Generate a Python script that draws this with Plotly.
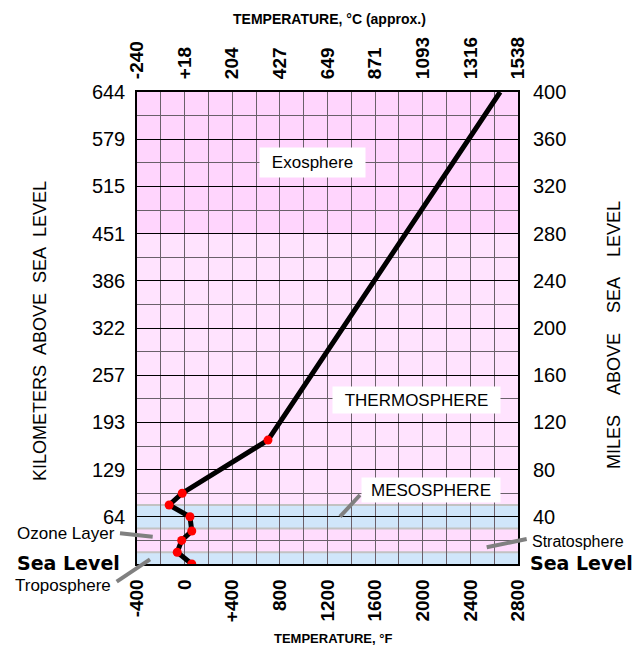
import plotly.graph_objects as go

# ---------------- data ----------------
altitude_mi = [0, 10, 20, 28, 40, 50, 60, 105, 400]
temp_f = [60, -62, -25, 60, 45, -130, -20, 700, 2650]
has_marker = [1, 1, 1, 1, 1, 1, 1, 1, 0]

f_ticks = [-400, 0, 400, 800, 1200, 1600, 2000, 2400, 2800]
f_ticktext = ["-400", "0", "+400", "800", "1200", "1600", "2000", "2400", "2800"]
c_ticktext = ["-240", "+18", "204", "427", "649", "871", "1093", "1316", "1538"]
mi_ticks = [40, 80, 120, 160, 200, 240, 280, 320, 360, 400]
mi_ticktext = ["40", "80", "120", "160", "200", "240", "280", "320", "360", "400"]
km_ticktext = ["64", "129", "193", "257", "322", "386", "451", "515", "579", "644"]

band_edges = [0, 10, 30, 50, 280, 400]
band_colors = ["#d0e6fa", "#ffdcfd", "#d0e6fa", "#ffe3fe", "#ffd5fd"]
band_lines = [10, 30, 50]

layer_labels = ["Exosphere", "THERMOSPHERE", "MESOSPHERE"]
layer_x = [1074, 1947, 2069]
layer_y = [340, 139, 62.7]
layer_w = [105, 167, 138]
layer_h = [29, 26, 24]

FONT = "Liberation Sans, Arial, sans-serif"
GRID = "#6a606a"

fig = go.Figure()

fig.add_trace(go.Scatter(
    x=temp_f, y=altitude_mi, mode="lines",
    line=dict(color="black", width=5),
    xaxis="x", yaxis="y", showlegend=False, hoverinfo="skip"))

mx = [t for t, m in zip(temp_f, has_marker) if m]
my = [a for a, m in zip(altitude_mi, has_marker) if m]
fig.add_trace(go.Scatter(
    x=mx, y=my, mode="markers",
    marker=dict(color="#ff0000", size=9),
    xaxis="x2", yaxis="y2", showlegend=False, hoverinfo="skip"))

shapes = []
for i, col in enumerate(band_colors):
    shapes.append(dict(type="rect", xref="paper", yref="y", x0=0, x1=1,
                       y0=band_edges[i], y1=band_edges[i + 1],
                       fillcolor=col, line=dict(width=0), layer="below"))
for yv in band_lines:
    shapes.append(dict(type="line", xref="paper", yref="y", x0=0, x1=1,
                       y0=yv, y1=yv, line=dict(color="#c2c2c2", width=2),
                       layer="below"))

# page-pixel positions converted to paper coords (plot area: x 137..518, y 92..564)
def px(xp):
    return (xp - 137) / 381.0

def py(yp):
    return (564 - yp) / 472.0

pointers = [((120, 533.3), (152.7, 536.7)),
            ((116.7, 581.7), (150, 559.3)),
            ((360, 495), (340, 516.7)),
            ((526.7, 539), (486.7, 547.3))]
for (a, b) in pointers:
    shapes.append(dict(type="line", xref="paper", yref="paper",
                       x0=px(a[0]), y0=py(a[1]), x1=px(b[0]), y1=py(b[1]),
                       line=dict(color="#808080", width=4), layer="above"))

annotations = []
for lab, xv, yv, w, h in zip(layer_labels, layer_x, layer_y, layer_w, layer_h):
    annotations.append(dict(x=xv, y=yv, xref="x", yref="y", text=lab,
                            showarrow=False, bgcolor="white", width=w, height=h,
                            borderpad=0, font=dict(family=FONT, size=17, color="black")))

sea_font = dict(family="DejaVu Sans", size=19, color="black", weight="bold")
annotations += [
    dict(x=px(121.7), y=py(563), xref="paper", yref="paper", text="Sea Level",
         xanchor="right", yanchor="middle", showarrow=False, font=sea_font),
    dict(x=px(528), y=py(563), xref="paper", yref="paper", text="Sea Level",
         xanchor="left", yanchor="middle", showarrow=False, font=sea_font),
    dict(x=px(116.7), y=py(533.5), xref="paper", yref="paper", text="Ozone Layer",
         xanchor="right", yanchor="middle", showarrow=False,
         font=dict(family=FONT, size=17, color="black")),
    dict(x=px(113), y=py(585.5), xref="paper", yref="paper", text="Troposphere",
         xanchor="right", yanchor="middle", showarrow=False,
         font=dict(family=FONT, size=17, color="black")),
    dict(x=px(530), y=py(541.5), xref="paper", yref="paper", text="Stratosphere",
         xanchor="left", yanchor="middle", showarrow=False,
         font=dict(family=FONT, size=16, color="black")),
    dict(x=px(329), y=py(19), xref="paper", yref="paper",
         text="TEMPERATURE, °C (approx.)", showarrow=False,
         xanchor="center", yanchor="middle",
         font=dict(family=FONT, size=14, color="black", weight="bold")),
    dict(x=px(332.5), y=py(638), xref="paper", yref="paper",
         text="TEMPERATURE, °F", showarrow=False,
         xanchor="center", yanchor="middle",
         font=dict(family=FONT, size=13, color="black", weight="bold")),
    dict(x=px(40), y=py(331), xref="paper", yref="paper",
         text="KILOMETERS\u00a0\u00a0ABOVE\u00a0\u00a0SEA\u00a0\u00a0LEVEL",
         showarrow=False, textangle=-90, xanchor="center", yanchor="middle",
         font=dict(family=FONT, size=18, color="black")),
    dict(x=px(614), y=py(335), xref="paper", yref="paper",
         text="MILES\u00a0\u00a0\u00a0\u00a0ABOVE\u00a0\u00a0\u00a0\u00a0SEA\u00a0\u00a0\u00a0\u00a0LEVEL",
         showarrow=False, textangle=-90, xanchor="center", yanchor="middle",
         font=dict(family=FONT, size=18, color="black")),
]

tick_bold = dict(family=FONT, size=19, color="black", weight="bold")
tick_reg = dict(family=FONT, size=20, color="black")
clear = "rgba(0,0,0,0)"

# the page body has an 8px margin, so the figure is 8px smaller and margins shifted
fig.update_layout(
    width=634, height=644,
    margin=dict(l=129, r=124, t=84, b=88, pad=0),
    paper_bgcolor="white", plot_bgcolor="#ffe3fe",
    shapes=shapes, annotations=annotations,
    xaxis=dict(range=[-400, 2800], tickmode="array", tickvals=f_ticks,
               ticktext=f_ticktext, tickangle=-90, tickfont=tick_bold,
               showgrid=True, gridcolor=GRID, gridwidth=1,
               minor=dict(dtick=200, showgrid=True, gridcolor=GRID, gridwidth=1),
               showline=True, linecolor="black", linewidth=1.5, mirror=True,
               ticks="outside", ticklen=6, tickcolor=clear, zeroline=False),
    yaxis=dict(range=[0, 400], tickmode="array", tickvals=mi_ticks,
               ticktext=km_ticktext, tickfont=tick_reg,
               showgrid=True, gridcolor="black", gridwidth=1,
               minor=dict(dtick=20, showgrid=True, gridcolor=GRID, gridwidth=1),
               showline=True, linecolor="black", linewidth=1.5, mirror=True,
               ticks="outside", ticklen=6, tickcolor=clear, zeroline=False),
    xaxis2=dict(range=[-400, 2800], overlaying="x", side="top", tickmode="array",
                tickvals=f_ticks, ticktext=c_ticktext, tickangle=-90,
                tickfont=tick_bold, showgrid=False, zeroline=False,
                ticks="outside", ticklen=8, tickcolor=clear),
    yaxis2=dict(range=[0, 400], overlaying="y", side="right", tickmode="array",
                tickvals=mi_ticks, ticktext=mi_ticktext, tickfont=tick_reg,
                showgrid=False, zeroline=False,
                ticks="outside", ticklen=10, tickcolor=clear),
)

fig.write_html("out.html")
